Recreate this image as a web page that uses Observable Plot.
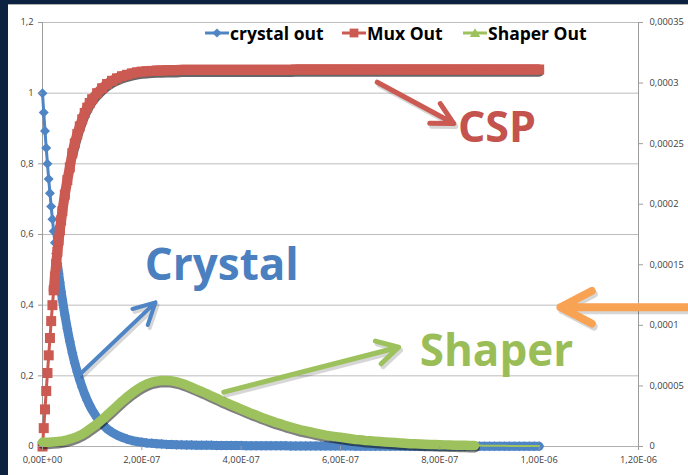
<!DOCTYPE html>
<html>
<head>
<meta charset="utf-8">
<script src="https://cdn.jsdelivr.net/npm/d3@7"></script>
<script src="https://cdn.jsdelivr.net/npm/@observablehq/plot@0.6"></script>
<style>
  html, body { margin: 0; padding: 0; }
  body { width: 688px; height: 475px; background: #0c2241; position: relative; overflow: hidden; font-family: "Open Sans", sans-serif; }
  #panel { position: absolute; left: 8px; top: 4px; width: 680px; height: 471px; background: #fff; border-top: 1px solid #b0b0b0; box-sizing: border-box; }
  #panel svg { position: absolute; left: 0; top: 0; }
  #legend { position: absolute; left: 205px; top: 22px; height: 22px; display: flex; align-items: center; font: bold 17.5px "Open Sans", sans-serif; color: #000; white-space: nowrap; }
  #legend .item { display: flex; align-items: center; }
  #legend svg { margin-right: 1px; }
</style>
</head>
<body>
<div id="panel"></div>
<div id="legend"></div>
<script>
// ---------- data (time in ns) ----------
const timeNs = [0,2.5,5,7.5,10,12.5,15,17.5,20,22.5,25,27.5,30,32.5,35,37.5,40,
  45,50,55,60,65,70,75,80,85,90,95,100,
  110,120,130,140,150,160,170,180,190,200,210,220,230,240,250,260,270,280,290,300,
  310,320,330,340,350,360,370,380,390,400,410,420,430,440,450,460,470,480,490,500,
  510,520,530,540,550,560,570,580,590,600,610,620,630,640,650,660,670,680,690,700,
  710,720,730,740,750,760,770,780,790,800,810,820,830,840,850,860,870,880,890,900,
  910,920,930,940,950,960,970,980,990,1000];

const crystalOut = [1.000,0.945,0.893,0.845,0.800,0.757,0.717,0.679,0.643,0.609,0.577,0.546,0.517,0.490,0.464,0.439,0.416,
  0.372,0.333,0.297,0.265,0.236,0.211,0.188,0.167,0.148,0.131,0.116,0.103,
  0.081,0.064,0.050,0.040,0.032,0.026,0.021,0.017,0.014,0.012,0.010,0.009,0.008,0.007,0.006,0.0055,0.005,0.0046,0.0043,0.004,
  0.0038,0.0036,0.0034,0.0032,0.003,0.0029,0.0028,0.0027,0.0026,0.0025,0.0024,0.0023,0.0022,0.0021,0.002,0.002,0.0019,0.0018,0.0018,0.0017,
  0.0016,0.0016,0.0015,0.0015,0.0014,0.0014,0.0013,0.0013,0.0012,0.0012,0.0011,0.0011,0.001,0.001,0.001,0.0009,0.0009,0.0009,0.0008,0.0008,
  0.0008,0.0007,0.0007,0.0007,0.0007,0.0006,0.0006,0.0006,0.0006,0.0006,0.0005,0.0005,0.0005,0.0005,0.0005,0.0005,0.0005,0.0005,0.0005,0.0005,
  0.0005,0.0005,0.0004,0.0004,0.0004,0.0004,0.0004,0.0004,0.0004,0.0004];

const muxOut = [0.000,0.052,0.105,0.157,0.208,0.258,0.307,0.355,0.400,0.442,0.481,0.517,0.551,0.583,0.612,0.640,0.666,
  0.713,0.754,0.790,0.830,0.858,0.884,0.906,0.926,0.944,0.959,0.972,0.983,
  1.000,1.014,1.026,1.035,1.042,1.048,1.052,1.056,1.059,1.061,1.062,1.063,1.064,1.064,1.065,1.065,1.065,1.066,1.066,1.066,
  1.066,1.066,1.066,1.066,1.066,1.066,1.066,1.066,1.066,1.066,1.066,1.066,1.066,1.066,1.066,1.066,1.066,1.066,1.066,1.066,
  1.067,1.067,1.067,1.067,1.067,1.067,1.067,1.067,1.067,1.067,1.067,1.067,1.067,1.067,1.067,1.067,1.067,1.067,1.067,1.067,
  1.067,1.067,1.067,1.067,1.067,1.067,1.067,1.067,1.067,1.067,1.067,1.067,1.067,1.067,1.067,1.067,1.067,1.067,1.067,1.067,
  1.067,1.067,1.067,1.067,1.067,1.067,1.067,1.067,1.067,1.067];

const shaperTimeNs = [0,10,20,30,40,50,60,70,80,90,100,110,120,130,140,150,160,170,180,190,
  200,210,220,230,240,250,260,270,280,290,300,310,320,330,340,350,360,370,380,390,
  400,410,420,430,440,450,460,470,480,490,500,510,520,530,540,550,560,570,580,590,
  600,610,620,630,640,650,660,670,680,690,700,710,720,730,740,750,760,770,780,790,
  800,810,820,830,840,850,860,870,880,890,900,910,920,930,940,950,960,970,980,990,1000];

const shaperOut = [0.012,0.012,0.013,0.014,0.016,0.019,0.023,0.028,0.035,0.044,
  0.054,0.064,0.076,0.089,0.102,0.115,0.128,0.140,0.151,0.161,
  0.170,0.177,0.182,0.185,0.187,0.187,0.186,0.183,0.179,0.174,
  0.168,0.162,0.156,0.150,0.143,0.137,0.130,0.124,0.118,0.112,
  0.106,0.100,0.094,0.089,0.083,0.078,0.073,0.068,0.064,0.059,
  0.055,0.051,0.047,0.044,0.041,0.038,0.035,0.032,0.030,0.028,
  0.026,0.024,0.022,0.020,0.019,0.017,0.016,0.015,0.014,0.013,
  0.012,0.011,0.010,0.009,0.008,0.0075,0.007,0.0065,0.006,0.0055,
  0.005,0.0046,0.0042,0.0038,0.0035,0.0032,0.003,0.0028,0.0026,0.0024,
  0.0022,0.002,0.0019,0.0018,0.0017,0.0016,0.0015,0.0014,0.0013,0.0012,0.0011];

const seriesNames = ["crystal out", "Mux Out", "Shaper Out"];
const annotationTexts = ["Crystal", "CSP", "Shaper"];

const xTicks = [0, 2e-7, 4e-7, 6e-7, 8e-7, 1e-6, 1.2e-6];
const xTickLabels = ["0,00E+00","2,00E-07","4,00E-07","6,00E-07","8,00E-07","1,00E-06","1,20E-06"];
const leftTicks = [0, 0.2, 0.4, 0.6, 0.8, 1, 1.2];
const leftTickLabels = ["0","0,2","0,4","0,6","0,8","1","1,2"];
const rightTicks = [0, 0.00005, 0.0001, 0.00015, 0.0002, 0.00025, 0.0003, 0.00035];
const rightTickLabels = ["0","0,00005","0,0001","0,00015","0,0002","0,00025","0,0003","0,00035"];

// ---------- styling ----------
const BLUE = "#4f85c5", RED = "#cb5a52", GREEN = "#9dc15c", ORANGE = "#f8a254";
const TXT_BLUE = "#4a7fc0", TXT_RED = "#c4524d", TXT_GREEN = "#9bbd58";

const len = Math.min(timeNs.length, crystalOut.length, muxOut.length);
const crystal = [], mux = [];
for (let i = 0; i < len; i++) {
  crystal.push({ns: timeNs[i], t: timeNs[i] * 1e-9, v: crystalOut[i]});
  mux.push({ns: timeNs[i], t: timeNs[i] * 1e-9, v: muxOut[i]});
}
const shaper = shaperTimeNs.map((ns, i) => ({ns, t: ns * 1e-9, v: shaperOut[i]}));
const shaperMarked = shaper.filter(d => d.ns <= 870);
// where the original's markers merge into a solid band
const crystalBand = crystal.filter(d => d.ns >= 30);
const muxBand = mux.filter(d => d.ns >= 22.5);
const muxShadow = mux.filter(d => d.ns >= 60);

const rOf = s => Math.sqrt(s / Math.PI);
const diamond = {draw(c, s) { const r = rOf(s); c.moveTo(0, -r); c.lineTo(r, 0); c.lineTo(0, r); c.lineTo(-r, 0); c.closePath(); }};
const square = {draw(c, s) { const r = rOf(s); c.rect(-r, -r, 2 * r, 2 * r); }};

const xMap = new Map(xTicks.map((d, i) => [d, xTickLabels[i]]));
const lMap = new Map(leftTicks.map((d, i) => [d, leftTickLabels[i]]));
const rightPos = rightTicks.map(v => v * 1.2 / 0.00035);
const rMap = new Map(rightPos.map((d, i) => [d, rightTickLabels[i]]));

// annotation positions in data units (x in s, y in left-axis units)
const arrows = [
  {x1: 76.5e-9, y1: 0.206, x2: 227.5e-9, y2: 0.408, c: BLUE, w: 4, hl: 9, ha: 55},
  {x1: 365e-9, y1: 0.154, x2: 717e-9, y2: 0.281, c: GREEN, w: 5, hl: 7.2, ha: 58},
  {x1: 674e-9, y1: 1.031, x2: 828e-9, y2: 0.914, c: RED, w: 5, hl: 7.2, ha: 55},
  {x1: 1310e-9, y1: 0.394, x2: 1043e-9, y2: 0.394, c: ORANGE, w: 8, hl: 6.6, ha: 55}
];
const labels = [
  {x: 361e-9, y: 0.512, text: annotationTexts[0], c: TXT_BLUE, s: 44},
  {x: 915e-9, y: 0.902, text: annotationTexts[1], c: TXT_RED, s: 43},
  {x: 914e-9, y: 0.269, text: annotationTexts[2], c: TXT_GREEN, s: 44}
];

const arrowMarks = arrows.flatMap(a => [
  Plot.arrow([a], {x1: "x1", y1: "y1", x2: "x2", y2: "y2", stroke: "#000", strokeOpacity: 0.16, strokeWidth: a.w, headLength: a.hl, headAngle: a.ha, dx: 2, dy: 3, strokeLinecap: "round", strokeLinejoin: "round"}),
  Plot.arrow([a], {x1: "x1", y1: "y1", x2: "x2", y2: "y2", stroke: a.c, strokeWidth: a.w, headLength: a.hl, headAngle: a.ha, strokeLinecap: "round", strokeLinejoin: "round"})
]);
const labelMarks = labels.map(l =>
  Plot.text([l], {x: "x", y: "y", text: "text", fill: l.c, fontSize: l.s, fontWeight: "bold", fontFamily: "Open Sans", textAnchor: "middle", lineAnchor: "middle"})
);

const chart = Plot.plot({
  width: 680, height: 470,
  marginLeft: 34, marginRight: 50, marginTop: 17, marginBottom: 29,
  style: {background: "transparent", fontFamily: "Open Sans", fontSize: "9.3px", color: "#404040", overflow: "visible"},
  x: {domain: [0, 1.2e-6], axis: null},
  y: {domain: [0, 1.2], axis: null},
  marks: [
    Plot.gridY({ticks: leftTicks, stroke: "#bdbdbd", strokeOpacity: 1}),
    Plot.ruleX([0], {stroke: "#9c9c9c"}),
    Plot.ruleX([1.2e-6], {stroke: "#9c9c9c"}),
    Plot.ruleY([0], {stroke: "#b0b0b0"}),
    // crystal out
    Plot.line(crystal, {x: "t", y: "v", stroke: BLUE, strokeWidth: 3}),
    Plot.line(crystalBand, {x: "t", y: "v", stroke: BLUE, strokeWidth: 9, strokeLinecap: "round"}),
    Plot.dot(crystal, {x: "t", y: "v", symbol: diamond, r: 5, fill: BLUE, stroke: "none"}),
    // Mux Out (with shadow)
    Plot.line(muxShadow, {x: "t", y: "v", stroke: "#000", strokeOpacity: 0.6, strokeWidth: 10, dy: 2.2}),
    Plot.line(mux, {x: "t", y: "v", stroke: RED, strokeWidth: 3}),
    Plot.line(muxBand, {x: "t", y: "v", stroke: RED, strokeWidth: 10}),
    Plot.dot(mux, {x: "t", y: "v", symbol: square, r: 5, fill: RED, stroke: "none"}),
    // Shaper Out (with shadow)
    Plot.line(shaperMarked, {x: "t", y: "v", stroke: "#000", strokeOpacity: 0.5, strokeWidth: 9.5, dx: 0.5, dy: 2.2}),
    Plot.line(shaper, {x: "t", y: "v", stroke: GREEN, strokeWidth: 2}),
    Plot.line(shaperMarked, {x: "t", y: "v", stroke: GREEN, strokeWidth: 9.5}),
    ...arrowMarks,
    ...labelMarks,
    Plot.axisX({ticks: xTicks, tickFormat: d => xMap.get(d), tickSize: 4, tickPadding: 6, stroke: "#9c9c9c", label: null}),
    Plot.axisY({ticks: leftTicks, tickFormat: d => lMap.get(d), tickSize: 4, tickPadding: 5, stroke: "#9c9c9c", label: null}),
    Plot.axisY({anchor: "right", ticks: rightPos, tickFormat: d => rMap.get(d), tickSize: 4, tickPadding: 7, stroke: "#9c9c9c", label: null})
  ]
});
document.getElementById("panel").appendChild(chart);

// legend (HTML overlay, as in the original)
const legendColors = [BLUE, RED, GREEN];
const legendWidths = ["137px", "121px", "auto"];
const legendShapes = [
  '<path d="M12,1.4L16.6,6L12,10.6L7.4,6Z"/>',
  '<rect x="7.6" y="1.6" width="8.8" height="8.8"/>',
  '<path d="M12,1.2L17.2,10L6.8,10Z"/>'
];
const legend = document.getElementById("legend");
seriesNames.forEach((name, i) => {
  const item = document.createElement("span");
  item.className = "item";
  item.style.width = legendWidths[i];
  item.innerHTML = `<svg width="24" height="12" style="fill:${legendColors[i]}"><line x1="0" y1="6" x2="24" y2="6" stroke="${legendColors[i]}" stroke-width="3"/>${legendShapes[i]}</svg>`;
  item.appendChild(document.createTextNode(name));
  legend.appendChild(item);
});
</script>
</body>
</html>
